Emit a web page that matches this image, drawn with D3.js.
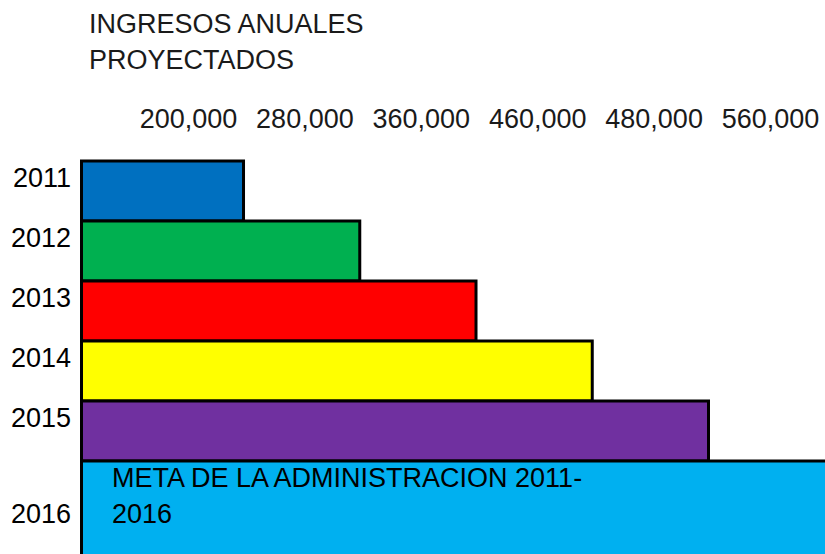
<!DOCTYPE html>
<html>
<head>
<meta charset="utf-8">
<script src="https://cdn.jsdelivr.net/npm/d3@7"></script>
<style>
  body { margin: 0; background: #fff; }
  text { font-family: "Liberation Sans", Arial, sans-serif; font-size: 27px; }
</style>
</head>
<body>
<svg class="bar_chart" width="825" height="554"></svg>
<script>
const years = ['2011', '2012', '2013', '2014', '2015', '2016'];
const ingresos = [200000, 280000, 360000, 440000, 520000, 620000];
const colors = ['#0070C0', '#00B050', '#FF0000', '#FFFF00', '#7030A0', '#00B0F0'];
const tickLabels = ['200,000', '280,000', '360,000', '460,000', '480,000', '560,000'];
const titleLines = ['INGRESOS ANUALES', 'PROYECTADOS'];
const metaLines = ['META DE LA ADMINISTRACION 2011-', '2016'];

const chart = d3.select('.bar_chart');
const width = +chart.attr('width');
const height = +chart.attr('height');

const data = years.map((year, i) => ({ year, value: ingresos[i], color: colors[i] }));

const x = d3.scaleLinear()
    .domain([88500, 520000])
    .range([81.5, 708.5]);

const y = d3.scaleBand()
    .domain(years)
    .range([161, 521])
    .padding(0);

// the last bar (goal) is taller and runs off the bottom
const barHeight = d => d.year === '2016' ? y.bandwidth() * 1.6 : y.bandwidth();

// title
chart.append('g')
    .selectAll('text')
    .data(titleLines)
    .join('text')
    .attr('x', 89)
    .attr('y', (d, i) => 33 + i * 36)
    .attr('fill', '#1a1a1a')
    .text(d => d);

// top labels
const xTicks = d3.scalePoint()
    .domain(tickLabels)
    .range([188, 770]);

const xAxisG = chart.append('g')
    .attr('transform', 'translate(0, 131)')
    .call(d3.axisTop(xTicks).tickSize(0).tickPadding(3));

xAxisG.select('.domain').remove();
xAxisG.selectAll('text')
    .attr('font-size', 27)
    .attr('font-family', '"Liberation Sans", Arial, sans-serif')
    .attr('fill', '#1a1a1a');

// bars
chart.append('g')
    .selectAll('rect')
    .data(data)
    .join('rect')
    .attr('x', x(88500))
    .attr('y', d => y(d.year))
    .attr('width', d => x(d.value) - x(88500))
    .attr('height', barHeight)
    .attr('fill', d => d.color)
    .attr('stroke', '#000')
    .attr('stroke-width', 3);

// year labels
chart.append('g')
    .selectAll('text')
    .data(data)
    .join('text')
    .attr('x', 71)
    .attr('y', d => y(d.year) + barHeight(d) - 34)
    .attr('text-anchor', 'end')
    .attr('fill', '#000')
    .text(d => d.year);

// goal annotation
chart.append('g')
    .selectAll('text')
    .data(metaLines)
    .join('text')
    .attr('x', 112)
    .attr('y', (d, i) => y('2016') + 26 + i * 36)
    .attr('fill', '#000')
    .text(d => d);
</script>
</body>
</html>
